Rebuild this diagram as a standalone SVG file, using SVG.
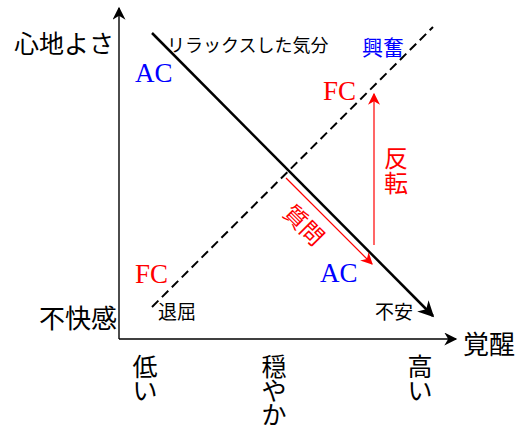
<svg xmlns="http://www.w3.org/2000/svg" width="523" height="430" viewBox="0 0 523 430">
<defs>
<style>
.jp{font-family:"Noto Sans CJK JP","Noto Sans",sans-serif;fill:#000}
.lat{font-family:"Liberation Serif","Times New Roman",serif}
.blue{fill:#0000ff}
.red{fill:#ff0000}
.axis{stroke:#000;stroke-width:1.4;fill:none}
</style>
<marker id="ak" viewBox="0 0 10 10" refX="9" refY="5" markerUnits="userSpaceOnUse" markerWidth="14" markerHeight="13" orient="auto">
<path d="M0,0 L10,5 L0,10 L3,5 z" fill="#000"/>
</marker>
<marker id="ad" viewBox="0 0 10 10" refX="9" refY="5" markerUnits="userSpaceOnUse" markerWidth="20" markerHeight="16" orient="auto">
<path d="M0,0 L10,5 L0,10 L3,5 z" fill="#000"/>
</marker>
<marker id="ar" viewBox="0 0 10 10" refX="9" refY="5" markerUnits="userSpaceOnUse" markerWidth="13" markerHeight="12" orient="auto">
<path d="M0,0 L10,5 L0,10 L3,5 z" fill="#ff0000"/>
</marker>
</defs>
<rect width="523" height="430" fill="#fff"/>
<g id="connectors">
<line class="axis" x1="119" y1="339" x2="119" y2="8" marker-end="url(#ak)"/>
<line class="axis" x1="119" y1="339" x2="456" y2="339" marker-end="url(#ak)"/>
<line x1="152" y1="33" x2="433" y2="316" stroke="#000" stroke-width="2.5" marker-end="url(#ad)"/>
<line x1="152" y1="307" x2="433" y2="27" stroke="#000" stroke-width="2" stroke-dasharray="9,5"/>
<line x1="374" y1="245" x2="374" y2="94" stroke="#ff0000" stroke-width="1.2" marker-end="url(#ar)"/>
<line x1="286" y1="178" x2="372" y2="264" stroke="#ff0000" stroke-width="1.2" marker-end="url(#ar)"/>
</g>
<g id="axis-labels">
<text class="jp" x="14" y="53" font-size="25">心地よさ</text>
<text class="jp" x="117" y="328" font-size="26" text-anchor="end">不快感</text>
<text class="jp" x="463" y="354" font-size="26">覚醒</text>
<text class="jp" font-size="25" text-anchor="middle"><tspan x="145" y="376">低</tspan><tspan x="145" y="400">い</tspan></text>
<text class="jp" font-size="25" text-anchor="middle"><tspan x="274" y="376">穏</tspan><tspan x="274" y="400">や</tspan><tspan x="274" y="424">か</tspan></text>
<text class="jp" font-size="25" text-anchor="middle"><tspan x="420" y="376">高</tspan><tspan x="420" y="400">い</tspan></text>
</g>
<g id="relax"><text class="jp" x="167" y="52" font-size="18">リラックスした気分</text></g>
<g id="excite"><text class="jp blue" x="362" y="55" font-size="21">興奮</text></g>
<g id="boredom"><text class="jp" x="158" y="319" font-size="19">退屈</text></g>
<g id="anxiety"><text class="jp" x="375" y="319" font-size="19">不安</text></g>
<g id="ac-top"><text class="lat blue" x="135" y="82" font-size="27">AC</text></g>
<g id="fc-top"><text class="lat red" x="323" y="100" font-size="27">FC</text></g>
<g id="fc-bottom"><text class="lat red" x="135" y="283" font-size="27">FC</text></g>
<g id="ac-bottom"><text class="lat blue" x="320" y="282" font-size="27">AC</text></g>
<g id="reversal"><text class="jp red" font-size="24" text-anchor="middle"><tspan x="396" y="167">反</tspan><tspan x="396" y="192">転</tspan></text></g>
<g id="question"><text class="jp red" font-size="23" text-anchor="middle" dominant-baseline="central" transform="translate(305,224) rotate(45)">質問</text></g>
</svg>
